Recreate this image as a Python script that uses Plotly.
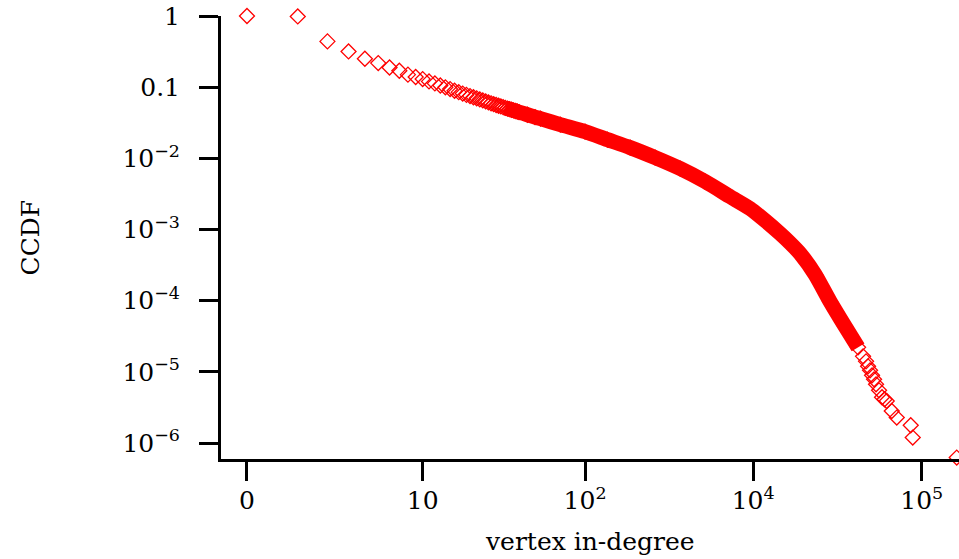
import plotly.graph_objects as go

# vertex in-degree values
degree = [0, 1, 2, 3, 4, 5, 6, 7, 8, 9, 10, 11, 12, 13, 14, 15, 16, 17, 18, 19,
          20, 21, 22, 23, 24, 25, 26, 27, 28, 29, 30, 31, 32, 33, 34, 35, 36, 37,
          38, 39, 40, 45, 50, 54, 71, 100, 136, 186, 262, 369, 519, 730, 960,
          1178, 1445, 1657, 1899, 2331, 2860, 3511, 4193,
          4489, 4676, 4806, 4938, 5075, 5216, 5359, 5584, 5815, 6018, 6201,
          6642, 7111, 8606, 8845, 16124]

ccdf = [1.0, 0.985, 0.44, 0.318, 0.251, 0.218, 0.189, 0.170, 0.150, 0.139,
        0.130, 0.1205, 0.113, 0.1056, 0.0995, 0.0941, 0.0891, 0.0851, 0.0814,
        0.0780, 0.0750, 0.0722, 0.0697, 0.0673, 0.0651, 0.0630, 0.0611, 0.0593,
        0.0577, 0.0562, 0.0548, 0.0536, 0.0524, 0.0512, 0.0501, 0.0491, 0.0482,
        0.0472, 0.0463, 0.0455, 0.0447, 0.0410, 0.0380, 0.0361, 0.02975, 0.0237,
        0.01832, 0.01415, 0.01024, 0.00718, 0.004717, 0.00290, 0.00197,
        0.001338, 0.000879, 0.000647, 0.000461, 0.000234, 9.77e-5, 4.36e-5,
        2.21e-5,
        1.653e-5, 1.406e-5, 1.197e-5, 1.052e-5, 8.95e-6, 7.86e-6, 6.69e-6,
        5.51e-6, 4.40e-6, 4.12e-6, 3.90e-6, 2.82e-6, 2.28e-6, 1.78e-6,
        1.195e-6, 6.26e-7]

x_tick_degrees = [0, 10, 100, 1000, 10000]
x_tick_labels = ["0", "10", "10<sup>2</sup>", "10<sup>4</sup>", "10<sup>5</sup>"]
y_tick_values = [1, 0.1, 1e-2, 1e-3, 1e-4, 1e-5, 1e-6]
y_tick_labels = ["1", "0.1", "10<sup>\u22122</sup>", "10<sup>\u22123</sup>",
                 "10<sup>\u22124</sup>", "10<sup>\u22125</sup>", "10<sup>\u22126</sup>"]

# dense part of the distribution (markers overlap into a solid band)
band_min_degree = 33
band_max_degree = 4193

RED = "#ff0000"
FONT = "DejaVu Serif"
FONT_SIZE = 25

x_all = [d + 1 for d in degree]
band_x = [d + 1 for d in degree if band_min_degree <= d <= band_max_degree]
band_y = [c for d, c in zip(degree, ccdf) if band_min_degree <= d <= band_max_degree]

fig = go.Figure()
fig.add_trace(go.Scatter(
    x=band_x, y=band_y, mode="lines",
    line=dict(color=RED, width=15, shape="spline", smoothing=0.6),
    hoverinfo="skip", showlegend=False, cliponaxis=False))
fig.add_trace(go.Scatter(
    x=x_all, y=ccdf, mode="markers",
    marker=dict(symbol="diamond-open", size=11.5, color=RED,
                line=dict(color=RED, width=1.3)),
    showlegend=False, cliponaxis=False))

fig.update_layout(
    width=959, height=559,
    margin=dict(l=221, r=0, t=16, b=100),
    paper_bgcolor="white", plot_bgcolor="white",
    font=dict(family=FONT, size=FONT_SIZE, color="black"),
    xaxis=dict(
        type="log", range=[-0.154, 4.221],
        tickvals=[d + 1 for d in x_tick_degrees], ticktext=x_tick_labels,
        showgrid=False, zeroline=False,
        showline=True, linecolor="black", linewidth=3,
        ticks="outside", ticklen=19, tickwidth=3, tickcolor="black",
        ticklabelstandoff=-2,
    ),
    yaxis=dict(
        type="log", range=[-6.224, 0],
        tickvals=y_tick_values, ticktext=y_tick_labels,
        showgrid=False, zeroline=False,
        showline=True, linecolor="black", linewidth=3,
        ticks="outside", ticklen=19, tickwidth=3, tickcolor="black",
        ticklabelstandoff=14,
    ),
    annotations=[
        dict(text="vertex in-degree", xref="paper", yref="paper", x=0.5, y=0,
             xanchor="center", yanchor="middle", yshift=-82, showarrow=False,
             font=dict(family=FONT, size=FONT_SIZE)),
        dict(text="CCDF", xref="paper", yref="paper", x=0, y=0.5,
             xanchor="center", yanchor="middle", xshift=-191, textangle=-90,
             showarrow=False, font=dict(family=FONT, size=FONT_SIZE)),
    ],
)

fig.write_html("out.html")
